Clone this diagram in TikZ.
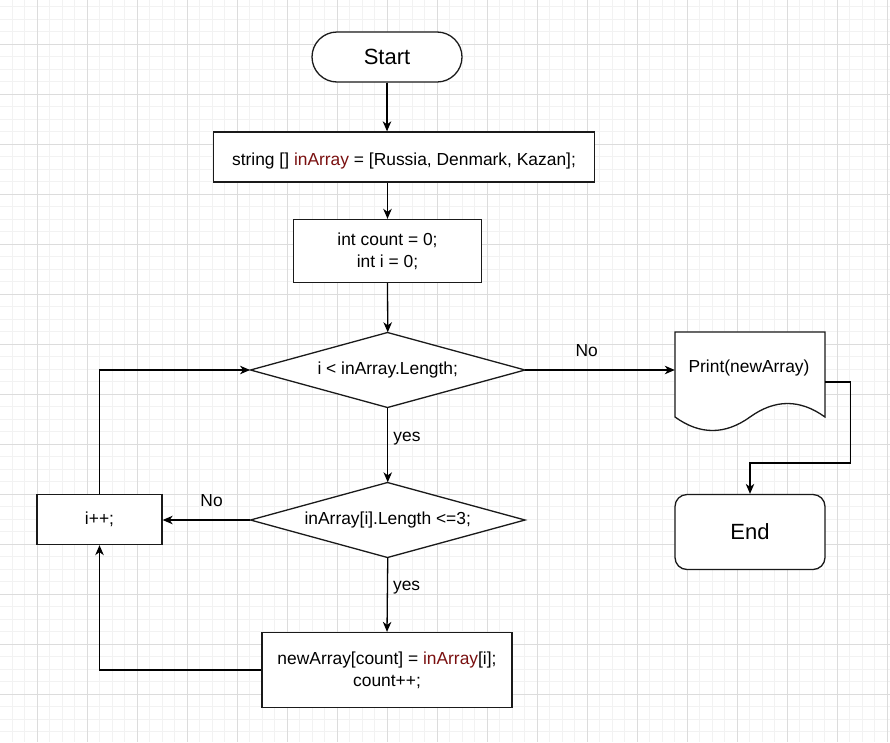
\documentclass[tikz,border=0pt]{standalone}
\usepackage{fontspec}
\setmainfont{Liberation Sans}
\usetikzlibrary{arrows.meta,calc}
\definecolor{gridminor}{HTML}{F2F2F2}
\definecolor{gridmajor}{HTML}{DCDCDC}
\definecolor{codered}{HTML}{7A1010}
\definecolor{edge}{HTML}{1A1A1A}
\begin{document}
\begin{tikzpicture}[x=1pt,y=-1pt,
  base/.style={draw=edge, line width=1.3pt, fill=white, inner sep=0pt, align=center,
    font=\fontsize{17.4}{21.7}\selectfont},
  proc/.style={base, rectangle},
  term/.style={base, rectangle, rounded corners=25pt, font=\fontsize{22}{25}\selectfont},
  endbox/.style={base, rectangle, rounded corners=12pt, font=\fontsize{22}{25}\selectfont},
  arr/.style={draw=black, line width=1.3pt, -{Stealth[length=10pt,width=8.5pt,inset=3pt]}},
  lbl/.style={font=\fontsize{17.4}{21}\selectfont, inner sep=0pt},
  shapeline/.style={draw=edge, line width=1.3pt, fill=white},
  gmin/.style={draw=gridminor, line width=0.7pt},
  gmaj/.style={draw=gridmajor, line width=0.8pt}
]
\useasboundingbox (0,0) rectangle (890,742);
\fill[white] (0,0) rectangle (890,742);
% grid
\foreach \i in {0,...,72} {\draw[gmin] ({12.5*\i-0.2},0) -- ({12.5*\i-0.2},742);}
\foreach \i in {0,...,59} {\draw[gmin] (0,{6.8+12.5*\i}) -- (890,{6.8+12.5*\i});}
\foreach \i in {0,...,17} {\draw[gmaj] ({37.3+50*\i},0) -- ({37.3+50*\i},742);}
\foreach \i in {0,...,14} {\draw[gmaj] (0,{44.3+50*\i}) -- (890,{44.3+50*\i});}

% nodes
\node[term, minimum width=150pt, minimum height=50pt] (start) at (387,57) {Start};
\node[proc, minimum width=381pt, minimum height=50pt, text height=16.5pt, text depth=0.5pt] (b1) at (404,157)
  {string [] \textcolor{codered}{inArray} = [Russia, Denmark, Kazan];};
\node[proc, minimum width=188pt, minimum height=63pt] (b2) at (387.5,251)
  {int count = 0;\\int i = 0;};
\path[shapeline] (250.5,370) -- (387.5,332.5) -- (525,370) -- (387.5,407.5) -- cycle;
\node[lbl, minimum width=275pt, minimum height=75pt] (d1) at (387.75,370) {i < inArray.Length;};
\path[shapeline] (250.5,520) -- (387.5,482.5) -- (525,520) -- (387.5,557.5) -- cycle;
\node[lbl, minimum width=275pt, minimum height=75pt] (d2) at (387.75,520) {inArray[i].Length <=3;};
\node[proc, minimum width=125pt, minimum height=50pt] (ip) at (99.5,519.5) {i++;};
\node[proc, minimum width=250pt, minimum height=75pt] (b3) at (387,670)
  {newArray[count] = \textcolor{codered}{inArray}[i];\\count++;};
% document shape
\path[shapeline] (675,332) -- (825,332) -- (825,417)
  .. controls (800,399) and (775,399) .. (750,417)
  .. controls (725,435) and (700,435) .. (675,417) -- cycle;
\node[lbl, minimum width=150pt, minimum height=100pt] (pr) at (750,382) {};
\node[lbl] (prt) at (749,368) {Print(newArray)};
\node[endbox, minimum width=150pt, minimum height=75pt] (end) at (750,532) {End};

% connectors
\draw[arr] (start.south) -- (start.south |- b1.north);
\draw[arr] (b2.north |- b1.south) -- (b2.north);
\draw[arr] (b2.south) -- (d1.north);
\draw[arr] (d1.south) -- (d2.north) node[lbl, pos=0.41, anchor=west, xshift=5pt] {yes};
\draw[arr] (d2.south) -- (b3.north) node[lbl, pos=0.41, anchor=west, xshift=5pt] {yes};
\draw[arr] (d1.east) -- (d1.east -| pr.west) node[lbl, pos=0.41, yshift=19pt] {No};
\draw[arr] (d2.west) -- (d2.west -| ip.east) node[lbl, pos=0.44, yshift=19pt] {No};
\draw[arr] (ip.north) |- (d1.west);
\draw[arr] (b3.west) -| (ip.south);
\draw[arr] (pr.east) -- ++(25,0) -- ++(0,81) -| (end.north);
\end{tikzpicture}
\end{document}
